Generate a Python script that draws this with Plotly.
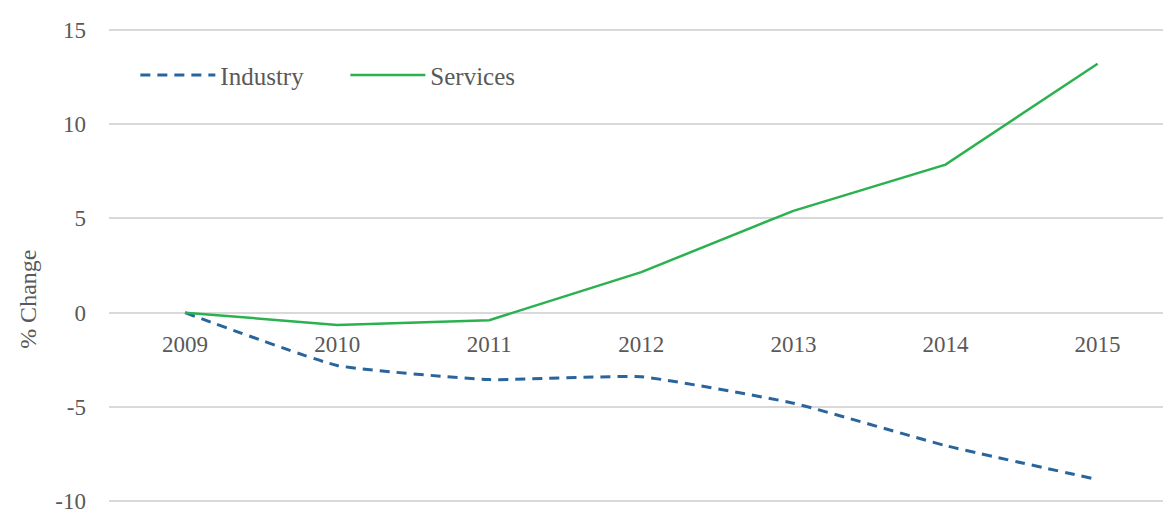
import plotly.graph_objects as go

years = ["2009", "2010", "2011", "2012", "2013", "2014", "2015"]
industry = [0, -2.8, -3.55, -3.4, -4.8, -7.05, -8.85]
services = [0, -0.65, -0.4, 2.15, 5.4, 7.85, 13.2]
y_ticks = [-10, -5, 0, 5, 10, 15]
y_tick_text = ["-10", "-5", "0", "5", "10", "15"]

font_family = "Liberation Serif"
grey = "#595959"

fig = go.Figure()
fig.add_trace(go.Scatter(
    x=years, y=industry, name="Industry", mode="lines",
    line=dict(color="#2a649c", width=3, dash="10px,7px", shape="spline", smoothing=0.4),
))
fig.add_trace(go.Scatter(
    x=years, y=services, name="Services", mode="lines",
    line=dict(color="#2bb14f", width=2.5),
))

fig.update_layout(
    width=1163, height=514,
    margin=dict(l=109, r=0, t=26, b=7),
    plot_bgcolor="white", paper_bgcolor="white",
    font=dict(family=font_family, size=23, color=grey),
    showlegend=True,
    legend=dict(
        orientation="h", x=0.025, y=0.897, xanchor="left", yanchor="middle",
        font=dict(family=font_family, size=25, color=grey),
        itemwidth=75, entrywidth=120, bgcolor="rgba(0,0,0,0)",
    ),
    xaxis=dict(
        type="category", range=[-0.5, 6.43],
        showgrid=False, zeroline=False, showline=False,
        anchor="free", position=(0 - (-10.2)) / 25.4, ticks="",
        ticklabelstandoff=15,
        tickfont=dict(family=font_family, size=23, color=grey),
    ),
    yaxis=dict(
        range=[-10.2, 15.2], tickvals=y_ticks, ticktext=y_tick_text,
        showgrid=True, gridcolor="#d9d9d9", gridwidth=1.5,
        zeroline=True, zerolinecolor="#d9d9d9", zerolinewidth=1.5,
        showline=False, ticks="", ticklabelstandoff=22,
        ticklabeloverflow="allow",
        tickfont=dict(family=font_family, size=23, color=grey),
    ),
    annotations=[dict(
        text="% Change", textangle=-90, showarrow=False,
        xref="paper", yref="paper", x=-0.077, y=0.43,
        xanchor="center", yanchor="middle",
        font=dict(family=font_family, size=24, color=grey),
    )],
)

fig.write_html("out.html", post_script="document.body.style.margin='0';",
               config={"displayModeBar": False})
